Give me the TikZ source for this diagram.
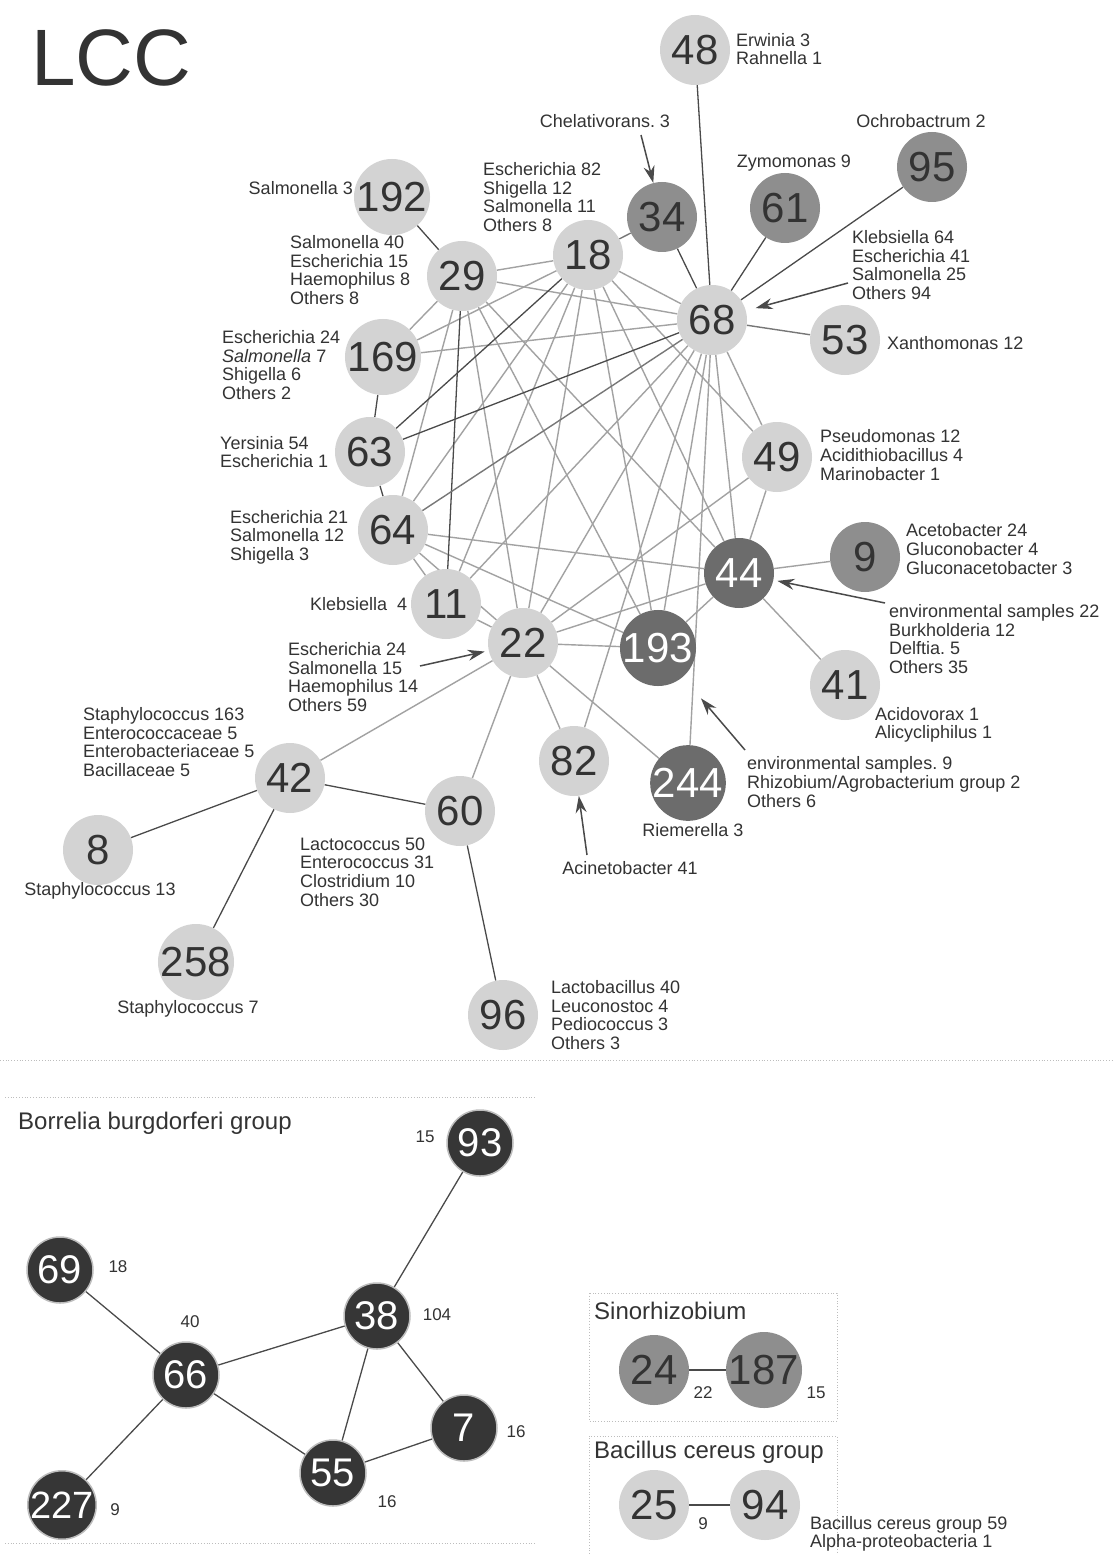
\documentclass[tikz,border=0pt]{standalone}
\usepackage{fontspec}
\setmainfont{Liberation Sans}
\usetikzlibrary{arrows.meta}
\pgfdeclarelayer{background}
\pgfsetlayers{background,main}
\frenchspacing
\definecolor{clight}{HTML}{D3D3D3}
\definecolor{cmid}{HTML}{8E8E8E}
\definecolor{cdark}{HTML}{6C6C6C}
\definecolor{cblack}{HTML}{363636}
\definecolor{ctext}{HTML}{333333}
\definecolor{cedge}{HTML}{A2A2A2}
\definecolor{cedged}{HTML}{4A4A4A}
\definecolor{cedgem}{HTML}{777777}
\definecolor{csep}{HTML}{BDBDBD}
\tikzset{
  nbase/.style={circle, minimum size=70pt, inner sep=0pt, font=\fontsize{42}{42}\selectfont},
  nl/.style={nbase, fill=clight, text=ctext},
  nm/.style={nbase, fill=cmid, text=ctext},
  ndk/.style={nbase, fill=cdark, text=white},
  nbk/.style={nbase, minimum size=66pt, fill=cblack, text=white, draw=csep, line width=1.5pt, font=\fontsize{40}{40}\selectfont},
  lab/.style={align=left, text=ctext, inner sep=0pt, font=\fontsize{18}{18.6}\selectfont\frenchspacing},
  small/.style={text=ctext, inner sep=0pt, font=\fontsize{17}{17}\selectfont},
  ttl/.style={text=ctext, inner sep=0pt, anchor=west, font=\fontsize{24}{24}\selectfont},
  edgel/.style={draw=cedge, line width=1.4pt},
  edged/.style={draw=cedged, line width=1.3pt},
  edgem/.style={draw=cedgem, line width=1.4pt},
  arr/.style={draw=cedged, line width=1.5pt, -{Stealth[length=17pt,width=11pt]}},
  sepline/.style={draw=csep, line width=0.8pt, dotted},
}
\begin{document}
\begin{tikzpicture}[x=1pt,y=-1pt]
\useasboundingbox (0,0) rectangle (1112,1554);

\node[anchor=west, text=ctext, inner sep=0pt, font=\fontsize{80}{80}\selectfont] (title) at (31,58) {LCC};

% LCC nodes
\node[nl] (n48) at (695,50) {48};
\node[nm] (n34) at (662,217) {34};
\node[nm] (n61) at (785,208) {61};
\node[nm] (n95) at (932,167) {95};
\node[nl] (n192) at (392,197) {192};
\node[nl] (n29) at (462,276) {29};
\node[nl] (n18) at (588,255) {18};
\node[nl] (n68) at (712,320) {68};
\node[nl] (n53) at (845,340) {53};
\node[nl] (n169) at (383,357) {169};
\node[nl] (n63) at (370,452) {63};
\node[nl] (n49) at (777,457) {49};
\node[nl] (n64) at (393,530) {64};
\node[ndk] (n44) at (739,573) {44};
\node[nm] (n9) at (865,557) {9};
\node[nl] (n11) at (446,604) {11};
\node[nl] (n22) at (523,643) {22};
\node[ndk] (n193) at (658,648) {193};
\node[nl] (n41) at (845,685) {41};
\node[nl] (n42) at (290,778) {42};
\node[nl] (n60) at (460,811) {60};
\node[nl] (n82) at (574,761) {82};
\node[ndk] (n244) at (688,783) {244};
\node[nl] (n8) at (98,850) {8};
\node[nl] (n258) at (196,962) {258};
\node[nl] (n96) at (503,1015) {96};

% LCC labels
\node[lab, anchor=west] (l48) at (736,49) {Erwinia 3\\Rahnella 1};
\node[lab] (l34) at (605,121) {Chelativorans. 3};
\node[lab] (l95) at (921,121) {Ochrobactrum 2};
\node[lab] (l61) at (794,163) {Zymomonas 9};
\node[lab, anchor=east] (l192) at (353,188) {Salmonella 3};
\node[lab, anchor=west] (l18) at (483,197) {Escherichia 82\\Shigella 12\\Salmonella 11\\Others 8};
\node[lab, anchor=west] (l29) at (290,270) {Salmonella 40\\Escherichia 15\\Haemophilus 8\\Others 8};
\node[lab, anchor=west] (l68) at (852,265) {Klebsiella 64\\Escherichia 41\\Salmonella 25\\Others 94};
\node[lab, anchor=west] (l53) at (887,343) {Xanthomonas 12};
\node[lab, anchor=west] (l169) at (222,365) {Escherichia 24\\\textit{Salmonella} 7\\Shigella 6\\Others 2};
\node[lab, anchor=west] (l63) at (220,452) {Yersinia 54\\Escherichia 1};
\node[lab, anchor=west] (l49) at (820,455) {Pseudomonas 12\\Acidithiobacillus 4\\Marinobacter 1};
\node[lab, anchor=west] (l64) at (230,537) {Escherichia 21\\Salmonella 12\\Shigella 3};
\node[lab, anchor=west] (l9) at (906,549) {Acetobacter 24\\Gluconobacter 4\\Gluconacetobacter 3};
\node[lab, anchor=west] (l11) at (310,604) {Klebsiella\ \ 4};
\node[lab, anchor=west] (l44) at (889,639) {environmental samples 22\\Burkholderia 12\\Delftia. 5\\Others 35};
\node[lab, anchor=west] (l22) at (288,677) {Escherichia 24\\Salmonella 15\\Haemophilus 14\\Others 59};
\node[lab, anchor=west] (l41) at (875,725) {Acidovorax 1\\Alicycliphilus 1};
\node[lab, anchor=west] (l42) at (83,742) {Staphylococcus 163\\Enterococcaceae 5\\Enterobacteriaceae 5\\Bacillaceae 5};
\node[lab, anchor=west] (l193) at (747,782) {environmental samples. 9\\Rhizobium/Agrobacterium group 2\\Others 6};
\node[lab] (l244) at (693,830) {Riemerella 3};
\node[lab, anchor=west] (l60) at (300,872) {Lactococcus 50\\Enterococcus 31\\Clostridium 10\\Others 30};
\node[lab] (l82) at (630,868) {Acinetobacter 41};
\node[lab] (l8) at (100,891) {Staphylococcus 13};
\node[lab] (l258) at (188,1009) {Staphylococcus 7};
\node[lab, anchor=west] (l96) at (551,1015) {Lactobacillus 40\\Leuconostoc 4\\Pediococcus 3\\Others 3};

% arrows
\coordinate (aChel) at (641,135);
\coordinate (aKleb) at (848,283);
\coordinate (aEnv22) at (885,603);
\coordinate (a22) at (420,666);
\coordinate (aEnv9) at (745,750);
\coordinate (aAcin) at (587,855);
\draw[arr] (aChel) -- (n34);
\draw[arr, shorten >=10pt] (aKleb) -- (n68);
\draw[arr, shorten >=4pt] (aEnv22) -- (n44);
\draw[arr, shorten >=4pt] (a22) -- (n22);
\draw[arr, shorten >=28pt] (aEnv9) -- (n193);
\draw[arr] (aAcin) -- (n82);

% separators
\draw[sepline] (0,1060) -- (1112,1060);
\draw[sepline] (5,1097) -- (535,1097);
\draw[sepline] (5,1543) -- (535,1543);
\draw[sepline] (589,1293) rectangle (837,1421);
\draw[sepline] (589,1554) -- (589,1436) -- (837,1436) -- (837,1554);

% Borrelia
\node[ttl] (tB) at (18,1123) {Borrelia burgdorferi group};
\node[nbk] (b93) at (480,1143) {93};
\node[nbk] (b69) at (60,1270) {69};
\node[nbk] (b38) at (377,1316) {38};
\node[nbk] (b66) at (186,1375) {66};
\node[nbk] (b7) at (464,1428) {7};
\node[nbk] (b55) at (333,1473) {55};
\node[nbk, font=\fontsize{38}{38}\selectfont] (b227) at (62,1505) {227};
\node[small] (s93) at (425,1137) {15};
\node[small] (s69) at (118,1267) {18};
\node[small] (s38) at (437,1315) {104};
\node[small] (s66) at (190,1322) {40};
\node[small] (s7) at (516,1432) {16};
\node[small] (s55) at (387,1502) {16};
\node[small] (s227) at (115,1510) {9};

% Sinorhizobium
\node[ttl] (tS) at (594,1311) {Sinorhizobium};
\node[nm] (s24) at (654,1370) {24};
\node[nm] (s187) at (764,1370) {187};
\node[small] (q24) at (703,1393) {22};
\node[small] (q187) at (816,1393) {15};

% Bacillus
\node[ttl] (tC) at (594,1452) {Bacillus cereus group};
\node[nl] (c25) at (654,1505) {25};
\node[nl] (c94) at (765,1505) {94};
\node[small] (q25) at (703,1524) {9};
\node[lab, anchor=west] (l94) at (810,1534) {Bacillus cereus group 59\\Alpha-proteobacteria 1};

\begin{pgfonlayer}{background}
\fill[white] (0,0) rectangle (1112,1554);
% light core edges
\foreach \a/\b in {29/18,29/68,29/169,29/64,29/22,29/193,29/44,
  18/68,18/169,18/64,18/11,18/22,18/193,18/44,18/49,
  68/169,68/11,68/22,68/193,68/82,68/244,68/44,68/49,
  64/44,64/193,64/22,64/11,11/22,
  22/49,22/44,22/193,22/244,22/82,22/60,22/42,
  193/44,44/49,44/9,44/41}
  \draw[edgel] (n\a) -- (n\b);
% darker edges
\foreach \a/\b in {192/29,169/63,63/64,29/11,63/18,63/68,48/68,34/68,61/68,95/68,42/8,42/258,60/96,42/60}
  \draw[edged] (n\a) -- (n\b);
\foreach \a/\b in {18/34,53/68,64/68}
  \draw[edgem] (n\a) -- (n\b);
% Borrelia edges
\foreach \a/\b in {93/38,69/66,66/38,66/55,66/227,38/55,38/7,55/7}
  \draw[edged] (b\a) -- (b\b);
\draw[edged] (s24) -- (s187);
\draw[edged] (c25) -- (c94);
\end{pgfonlayer}
\end{tikzpicture}
\end{document}
